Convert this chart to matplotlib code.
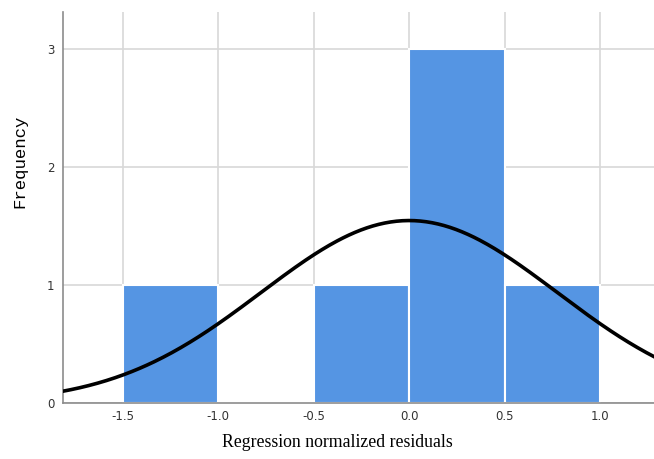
import numpy as np
import matplotlib
matplotlib.use("Agg")
import matplotlib.pyplot as plt

# histogram bins and counts
bin_left = [-1.5, -1.0, -0.5, 0.0, 0.5]
counts = [1, 0, 1, 3, 1]
bin_width = 0.5
n_obs = 6

# fitted normal curve parameters
fit_mean = 0.0
fit_sd = 0.775

x_ticks = [-1.5, -1.0, -0.5, 0.0, 0.5, 1.0]
x_tick_labels = ["-1.5", "-1.0", "-0.5", "0.0", "0.5", "1.0"]
y_ticks = [0, 1, 2, 3]

fig = plt.figure(figsize=(6.54, 4.59), dpi=100)
ax = fig.add_axes([0.0963, 0.122, 0.9037, 0.852])

ax.bar(bin_left, counts, width=bin_width, align="edge", color="#5595e3",
       edgecolor="white", linewidth=1.5, zorder=2)

xs = np.linspace(-1.82, 1.29, 400)
ys = n_obs * bin_width * np.exp(-0.5 * ((xs - fit_mean) / fit_sd) ** 2) / (fit_sd * np.sqrt(2 * np.pi))
ax.plot(xs, ys, color="black", linewidth=2.6, zorder=3)

ax.set_xlim(-1.814, 1.283)
ax.set_ylim(0, 3.31)
ax.set_xticks(x_ticks)
ax.set_xticklabels(x_tick_labels)
ax.set_yticks(y_ticks)
ax.grid(True, color="#d8d8d8", linewidth=1.2, zorder=0)
ax.set_axisbelow(True)
ax.tick_params(length=0, labelsize=8.5, colors="#333333", pad=5)
ax.tick_params(axis="y", pad=6)

for s in ["top", "right"]:
    ax.spines[s].set_visible(False)
for s in ["left", "bottom"]:
    ax.spines[s].set_color("#8c8c8c")
    ax.spines[s].set_linewidth(1.2)

ax.set_xlabel("Regression normalized residuals", fontfamily="Liberation Serif",
              fontsize=12.8)
ax.xaxis.set_label_coords(0.4636, -0.078)
ax.set_ylabel("Frequency", fontfamily="Liberation Mono", fontsize=12.5)
ax.yaxis.set_label_coords(-0.060, 0.619)

fig.savefig("out.png", dpi=100)
